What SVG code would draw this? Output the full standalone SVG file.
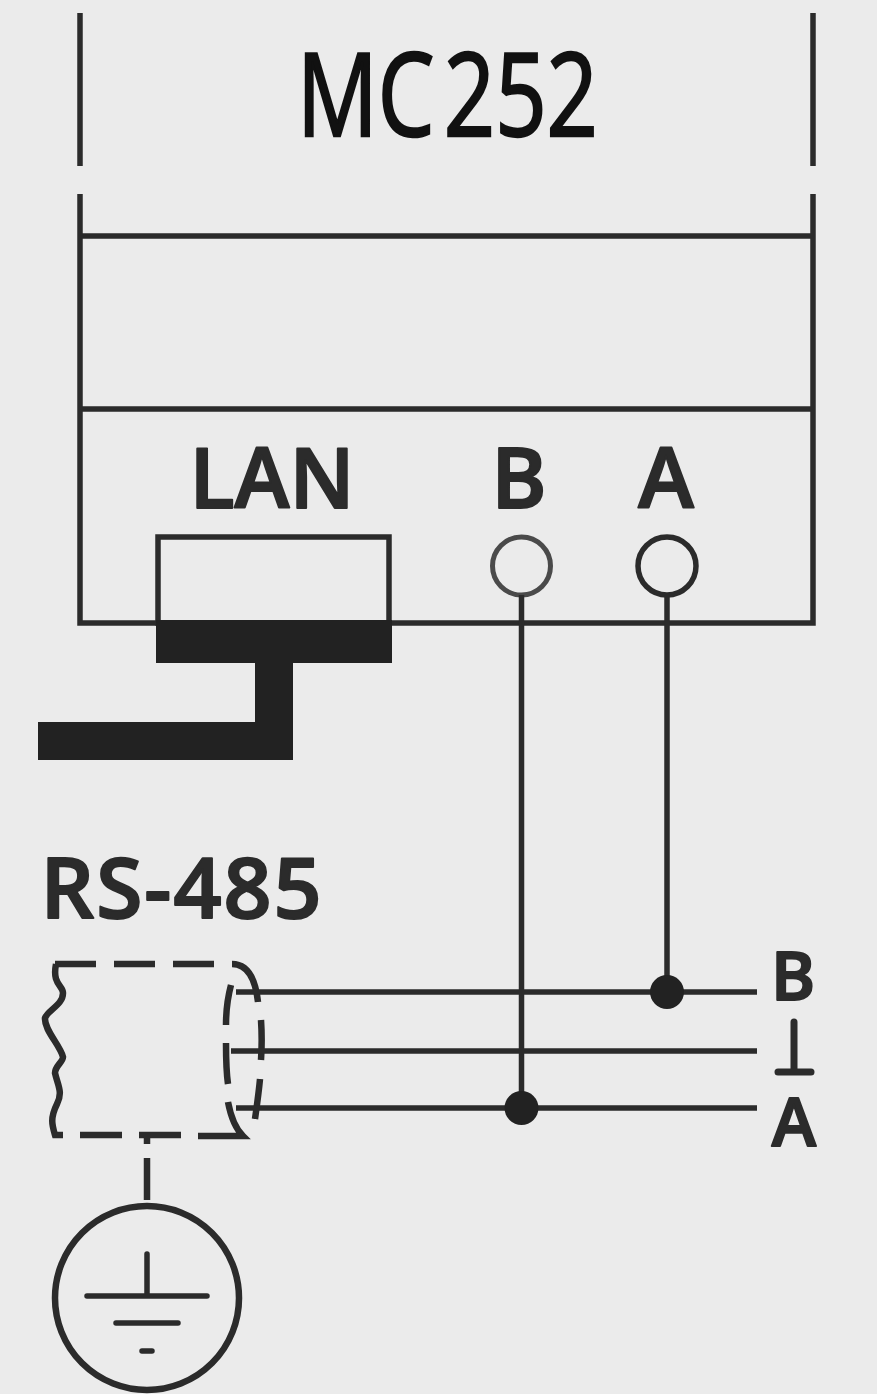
<svg xmlns="http://www.w3.org/2000/svg" width="877" height="1394" viewBox="0 0 877 1394">
<style>
.l{fill:none;stroke:#2b2b2b;stroke-width:5.500}
.d{fill:none;stroke:#2b2b2b;stroke-width:6.500}
.t{fill:#2b2b2b;stroke:#2b2b2b;stroke-width:2;stroke-linejoin:round;font-family:"Open Sans","DejaVu Sans",sans-serif;font-weight:600;text-anchor:middle}
.dot{fill:#222}
</style>
<rect width="877" height="1394" fill="#ebebeb"/>
<g id="title"><text x="297" y="136" font-family="'Open Sans',sans-serif" font-weight="500" font-size="116" fill="#111" stroke="#111" stroke-width="2.500" word-spacing="-18" textLength="301" lengthAdjust="spacingAndGlyphs">MC 252</text></g>
<g id="device">
<path class="l" d="M80 13V166M813 13V166M80 194V623H157M390 623H813V194M80 236H813M80 409H813"/>
<rect class="l" x="158" y="537" width="231" height="86"/>
<path fill="#222" d="M156 620H392V663H293V760H38V722H255V663H156Z"/>
<text class="t" x="272" y="508" font-size="83">LAN</text>
<text class="t" x="519" y="508" font-size="84">B</text>
<text class="t" x="666" y="508" font-size="84">A</text>
<circle cx="521.500" cy="566" r="29" fill="none" stroke="#4a4a4a" stroke-width="5"/>
<circle cx="667" cy="566" r="29" class="l"/>
</g>
<g id="cable">
<text class="t" x="182" y="918" font-size="84" letter-spacing="2">RS-485</text>
<path class="d" d="M55 964H96M114 964H155M173 964H214M232 964C245 964 255 975 258 1002M261 1020C262 1035 262 1045 261 1060M260 1079C259 1090 257 1105 255 1119M231 985C227 1000 226 1012 226 1025M226 1043C226 1060 226 1070 228 1084M228 1102C231 1118 235 1128 243 1136H198M181 1135H139M122 1135H80M63 1135H55C52 1125 50 1118 57 1104C63 1092 58 1086 55 1073C55 1066 63 1062 63 1057C60 1045 44 1030 45 1018C48 1010 63 1005 63 993C63 985 52 985 56 964"/>
<path class="d" d="M147 1137V1144M147 1158V1200"/>
<circle class="d" cx="147" cy="1298" r="92"/>
<path class="l" stroke-linecap="round" d="M147 1254V1296M87 1296H207M116 1323H178M142 1351H152"/>
</g>
<g id="connectors">
<path class="l" d="M236 992H757M231 1051H757M236 1108H757M521.500 595V1108M667 595V992"/>
<circle class="dot" cx="667" cy="992" r="17"/>
<circle class="dot" cx="521.500" cy="1108" r="17"/>
</g>
<g id="terminals">
<text class="t" x="793" y="1000" font-size="67">B</text>
<path fill="none" stroke="#2b2b2b" stroke-width="7" stroke-linecap="round" d="M794 1022V1072M778 1072H811"/>
<text class="t" x="794" y="1146" font-size="67">A</text>
</g>
</svg>
